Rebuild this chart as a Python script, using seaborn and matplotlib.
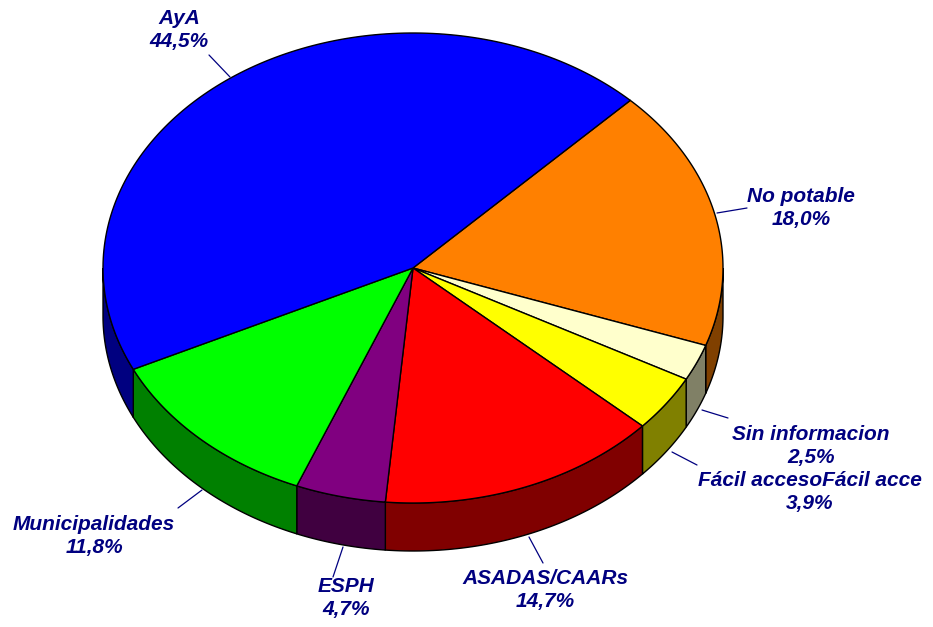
import numpy as np
import matplotlib
matplotlib.use('Agg')
import matplotlib.pyplot as plt
import seaborn as sns
from matplotlib.patches import Polygon

# datos
categorias = ['No potable', 'Sin informacion', 'Fácil accesoFácil acce', 'ASADAS/CAARs',
              'ESPH', 'Municipalidades', 'AyA']
porcentajes = [18.0, 2.5, 3.9, 14.7, 4.7, 11.8, 44.5]
colores_top = ['#FF8000', '#FFFFCC', '#FFFF00', '#FF0000', '#800080', '#00FF00', '#0000FF']
colores_lado = ['#804000', '#808066', '#808000', '#800000', '#400040', '#008000', '#000080']

sns.set_style('white')
plt.rcParams['font.family'] = ['Liberation Sans', 'DejaVu Sans']

fig = plt.figure(figsize=(9.33, 6.27), dpi=100)
ax = fig.add_axes([0, 0, 1, 1])
ax.set_xlim(0, 933)
ax.set_ylim(627, 0)
ax.axis('off')

# geometria del pastel (pixeles)
cx, cy, a, b, prof = 413, 268, 310, 235, 48
inicio = 45.5


def punto(t, dy=0):
    r = np.radians(t)
    return cx + a * np.cos(r), cy - b * np.sin(r) + dy


fracs = np.array(porcentajes) / sum(porcentajes)
bordes = inicio - np.concatenate([[0], np.cumsum(fracs)]) * 360

# paredes laterales visibles (mitad frontal)
for i in range(len(categorias)):
    t1, t0 = bordes[i], bordes[i + 1]
    for desp in (0, -360):
        lo = max(t0 - desp, -180)
        hi = min(t1 - desp, 0)
        if lo < hi:
            ts = np.linspace(lo, hi, 60)
            arriba = [punto(t) for t in ts]
            abajo = [punto(t, prof) for t in ts[::-1]]
            ax.add_patch(Polygon(arriba + abajo, closed=True, fc=colores_lado[i],
                                 ec='black', lw=1, zorder=1))

# caras superiores
for i in range(len(categorias)):
    ts = np.linspace(bordes[i], bordes[i + 1], 150)
    pts = [(cx, cy)] + [punto(t) for t in ts]
    ax.add_patch(Polygon(pts, closed=True, fc=colores_top[i], ec='black', lw=1, zorder=2))

# etiquetas
etq_pos = [(801, 208), (811, 446), (810, 492), (545, 590), (346, 598), (94, 536), (179, 30)]
lineas = [[(717, 213), (747, 208)], [(702, 410), (728, 418)], [(672, 452), (697, 465)],
          [(529, 537), (543, 563)], [(343, 547), (333, 577)], [(202, 490), (178, 508)],
          [(209, 55), (230, 77)]]
for nombre, p, pos, ln in zip(categorias, porcentajes, etq_pos, lineas):
    txt = f"{nombre}\n{p:.1f}%".replace('.', ',')
    ax.text(pos[0], pos[1], txt, ha='center', va='center', color='#000080',
            fontsize=15, fontweight='bold', fontstyle='italic', linespacing=1.25, zorder=3)
    ax.plot([ln[0][0], ln[1][0]], [ln[0][1], ln[1][1]], color='#000080', lw=0.9, zorder=3)

fig.savefig('out.png', dpi=100)
